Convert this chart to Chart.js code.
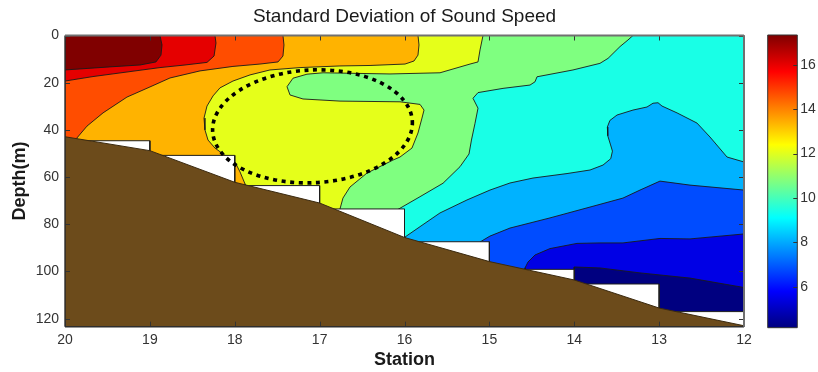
<!DOCTYPE html>
<html>
<head>
<meta charset="utf-8">
<title>Standard Deviation of Sound Speed</title>
<script src="https://cdn.jsdelivr.net/npm/chart.js@4/dist/chart.umd.min.js"></script>
<style>
  html, body { margin: 0; padding: 0; background: #fff; overflow: hidden; }
  #wrap { position: relative; width: 818px; height: 372px; }
  #section { position: absolute; left: 0; top: 0; }
  #scale { position: absolute; left: 760px; top: 0; }
</style>
</head>
<body>
<div id="wrap">
  <canvas id="section" width="818" height="372"></canvas>
  <canvas id="scale" width="58" height="372"></canvas>
</div>
<script>
// ---- section geometry: station number along x, depth (m) down y ----
const stations = [20, 19, 18, 17, 16, 15, 14, 13, 12];
const depthTicks = [0, 20, 40, 60, 80, 100, 120];
const maxDepth = 123.4;
// deepest sampled depth in each interval 20-19, 19-18, ..., 13-12
const sampledDepth = [44.6, 50.8, 63.6, 73.5, 87.4, 99.1, 105.3, 117.0];
// seabed depth at each station
const seabedDepth = [42.9, 48.8, 62.2, 71.0, 85.6, 95.8, 103.6, 115.5, 123.0];

// ---- standard deviation of sound speed (m/s) ----
const sdMin = 4.15;
const sdMax = 17.35;
const colorTicks = [6, 8, 10, 12, 14, 16];
const contourLevels = [4.15, 5.47, 6.79, 8.11, 9.43, 10.75, 12.07, 13.39, 14.71, 16.03, 17.35];

// Regions where SD >= contourLevels[k], as [station, depth] outlines
const contourL0 = [[20, 0], [12, 0], [12, 123.4], [20, 123.4]];
const contourL1 = [[20, 0], [12, 0], [12, 106.8], [12.636, 102.8], [13.225, 100.6], [13.697, 98.5],
  [14.0, 98.1], [14.0, 110], [20, 110]];
const contourL2 = [[20, 0], [12, 0], [12, 84.1], [12.636, 86.2], [12.99, 86.0], [13.426, 87.9],
  [13.697, 87.9], [13.968, 88.1], [14.286, 90.3], [14.462, 93.0], [14.545, 96.0], [14.58, 98.5],
  [14.58, 110], [20, 110]];
const contourL3 = [[20, 0], [12, 0], [12, 65.5], [12.636, 63.4], [12.99, 61.7], [13.225, 65.5],
  [13.426, 68.9], [13.814, 72.7], [14.286, 77.3], [14.757, 81.6], [14.993, 85.0], [15.11, 87.5],
  [15.11, 100], [20, 100]];
const contourL4 = [[20, 0], [12, 0], [12, 53.6], [12.2, 51.5], [12.401, 43.0], [12.554, 37.1],
  [12.789, 32.8], [12.966, 29.9], [13.013, 28.5], [13.072, 28.7], [13.143, 30.3], [13.308, 31.6],
  [13.496, 33.7], [13.58, 36.0], [13.61, 38.8], [13.605, 42.5], [13.575, 46.0], [13.55, 49.0],
  [13.57, 52.2], [13.661, 54.9], [13.814, 57.0], [14.085, 58.5], [14.486, 60.4], [14.757, 62.5],
  [14.993, 65.5], [15.264, 69.7], [15.582, 75.2], [15.817, 81.0], [15.994, 85.4], [15.994, 100], [20, 100]];
const contourL5 = [[20, 0], [13.308, 0], [13.367, 1.9], [13.461, 4.7], [13.602, 9.7], [13.697, 11.8],
  [14.015, 14.6], [14.439, 17.5], [14.462, 19.6], [14.521, 21.0], [14.839, 22.4], [15.134, 24.2],
  [15.193, 26.6], [15.134, 30.8], [15.169, 37.2], [15.211, 44.3], [15.24, 50.2], [15.346, 55.6],
  [15.546, 62.6], [15.817, 68.3], [16.077, 73.7], [16.077, 90], [20, 90]];
const contourL6 = [[20, 0], [15.075, 0], [15.11, 6.1], [15.134, 11.2], [15.228, 12.1], [15.582, 15.8],
  [16.171, 16.3], [16.96, 15.8], [17.149, 16.4], [17.314, 18.1], [17.384, 21.7], [17.349, 25.2],
  [17.196, 26.9], [16.76, 27.8], [16.053, 28.1], [15.817, 29.2], [15.77, 31.6], [15.794, 35.0],
  [15.841, 41.3], [15.912, 47.7], [16.053, 51.5], [16.136, 52.8], [16.442, 58.3], [16.642, 64.2],
  [16.725, 68.9], [16.76, 73.5], [16.76, 90], [20, 90]];
const contourL7 = [[20, 0], [15.841, 0], [15.829, 4.0], [15.841, 8.3], [15.888, 10.8], [15.994, 12.1],
  [16.406, 12.7], [16.76, 12.9], [17.231, 13.6], [17.585, 14.6], [17.82, 16.7], [18.021, 19.3],
  [18.174, 22.2], [18.256, 25.6], [18.327, 29.9], [18.362, 35.0], [18.351, 40.0], [18.315, 44.3],
  [18.233, 47.7], [18.103, 51.1], [17.997, 53.6], [17.938, 57.8], [17.879, 62.9], [17.879, 75], [20, 75]];
const contourL8 = [[20, 0], [17.432, 0], [17.42, 4.0], [17.432, 8.7], [17.49, 11.2], [17.703, 12.1],
  [18.021, 13.1], [18.409, 15.0], [18.763, 18.0], [18.999, 21.8], [19.27, 26.1], [19.552, 32.8],
  [19.741, 38.4], [19.859, 43.4], [19.88, 50], [20, 50]];
const contourL9 = [[20, 0], [18.233, 0], [18.221, 3.2], [18.244, 8.7], [18.327, 11.4], [18.586, 12.5],
  [18.881, 13.6], [19.67, 17.4], [20, 19.3]];
const contourL10 = [[20, 0], [18.881, 0], [18.857, 4.0], [18.869, 8.3], [18.928, 11.2], [19.116, 12.5],
  [19.47, 13.3], [20, 14.6]];
const contourShapes = [contourL0, contourL1, contourL2, contourL3, contourL4, contourL5,
  contourL6, contourL7, contourL8, contourL9, contourL10];

// highlighted water mass: centre [station, depth] and half-widths
const highlightCenter = [17.084, 38.5];
const highlightRadius = [1.178, 23.9];

// MATLAB-style jet colour map, t in [0, 1]
function jet(t) {
  const c = v => Math.round(255 * Math.max(0, Math.min(1, v)));
  return 'rgb(' + c(Math.min(4 * t - 1.5, -4 * t + 4.5)) + ',' +
    c(Math.min(4 * t - 0.5, -4 * t + 3.5)) + ',' + c(Math.min(4 * t + 0.5, -4 * t + 2.5)) + ')';
}
const bandColor = v => jet((v - sdMin) / (sdMax - sdMin));

const toPoints = shape => {
  const pts = shape.map(([s, d]) => ({ x: s, y: d }));
  pts.push({ x: shape[0][0], y: shape[0][1] });
  return pts;
};

// no-data area below the deepest sample of each interval
const maskShape = [];
sampledDepth.forEach((d, i) => {
  maskShape.push([stations[i], d], [stations[i + 1], d]);
});
maskShape.push([stations[stations.length - 1], maxDepth], [stations[0], maxDepth]);

// seabed
const seabedShape = stations.map((s, i) => [s, seabedDepth[i]]);
seabedShape.push([stations[stations.length - 1], maxDepth], [stations[0], maxDepth]);

Chart.defaults.font.family = '"Liberation Sans", Arial, Helvetica, sans-serif';
Chart.defaults.color = '#333';

const polygon = (shape, fillColor, lineColor, lineWidth, order) => ({
  data: toPoints(shape),
  backgroundColor: fillColor,
  borderColor: lineColor,
  borderWidth: lineWidth,
  fill: 'shape',
  pointRadius: 0,
  pointHoverRadius: 0,
  tension: 0,
  borderJoinStyle: 'round',
  order: order
});

const datasets = contourShapes.map((shape, k) =>
  polygon(shape, bandColor(contourLevels[k]), '#1a1a1a', k === 0 ? 0 : 0.9, 100 - k));
datasets.push(polygon(maskShape, '#ffffff', '#1e1e1e', 1, 50));
datasets.push(polygon(seabedShape, '#6c4b1b', '#3b2a10', 1, 40));

// inward tick marks, axes box and the dotted highlight
const axesBox = {
  id: 'axesBox',
  afterDatasetsDraw(chart, args, o) {
    const { ctx, chartArea: a, scales } = chart;
    ctx.save();
    if (o.highlight) {
      const xs = scales.x, ys = scales.y;
      const cx = xs.getPixelForValue(highlightCenter[0]);
      const cy = ys.getPixelForValue(highlightCenter[1]);
      const rx = Math.abs(xs.getPixelForValue(highlightCenter[0] - highlightRadius[0]) - cx);
      const ry = Math.abs(ys.getPixelForValue(highlightCenter[1] + highlightRadius[1]) - cy);
      ctx.beginPath();
      ctx.ellipse(cx, cy, rx, ry, -0.05, 0, Math.PI * 2);
      ctx.setLineDash([4, 4.6]);
      ctx.lineWidth = 3.6;
      ctx.strokeStyle = '#000';
      ctx.stroke();
      ctx.setLineDash([]);
    }
    const seg = (x1, y1, x2, y2) => { ctx.beginPath(); ctx.moveTo(x1, y1); ctx.lineTo(x2, y2); ctx.stroke(); };
    ctx.lineWidth = 1;
    ctx.strokeStyle = o.tickColor;
    const L = o.tickLength;
    if (o.xTicks) {
      for (const t of scales.x.ticks) {
        const p = Math.round(scales.x.getPixelForValue(t.value)) + 0.5;
        seg(p, a.top, p, a.top + L);
        seg(p, a.bottom, p, a.bottom - L);
      }
    }
    for (const t of scales.y.ticks) {
      const p = Math.round(scales.y.getPixelForValue(t.value)) + 0.5;
      if (o.leftTicks) seg(a.left, p, a.left + L, p);
      seg(a.right, p, a.right - L, p);
    }
    ctx.lineWidth = o.frameWidth;
    ctx.strokeStyle = o.frameDark;
    seg(a.left, a.top, a.left, a.bottom);
    seg(a.left, a.bottom, a.right, a.bottom);
    ctx.strokeStyle = o.frameLight;
    ctx.lineWidth = o.frameWidthLight;
    seg(a.left, a.top, a.right, a.top);
    seg(a.right, a.top, a.right, a.bottom);
    ctx.restore();
  }
};

new Chart(document.getElementById('section'), {
  type: 'line',
  data: { datasets: datasets },
  plugins: [axesBox],
  options: {
    responsive: false,
    animation: false,
    events: [],
    layout: { padding: { left: 0, right: 74, top: 0, bottom: 0 } },
    scales: {
      x: {
        type: 'linear',
        reverse: true,
        min: 12,
        max: 20,
        afterBuildTicks: s => { s.ticks = stations.map(v => ({ value: v })); },
        afterFit: s => { s.height = 45.3; },
        grid: { display: false, drawTicks: false },
        border: { display: false },
        ticks: { padding: 5, font: { size: 14 }, color: '#333', maxRotation: 0 },
        title: { display: true, text: 'Station', font: { size: 18, weight: 'bold' }, color: '#1a1a1a',
          padding: { top: 0, bottom: 1.5 } }
      },
      y: {
        type: 'linear',
        reverse: true,
        min: 0,
        max: maxDepth,
        afterBuildTicks: s => { s.ticks = depthTicks.map(v => ({ value: v })); },
        afterFit: s => { s.width = 65; },
        grid: { display: false, drawTicks: false },
        border: { display: false },
        ticks: { padding: 6, font: { size: 14 }, color: '#333' },
        title: { display: true, text: 'Depth(m)', font: { size: 18, weight: 'bold' }, color: '#1a1a1a',
          padding: { top: 9, bottom: 0 } }
      }
    },
    plugins: {
      legend: { display: false },
      tooltip: { enabled: false },
      title: {
        display: true,
        fullSize: false,
        text: 'Standard Deviation of Sound Speed',
        font: { size: 19, weight: 'normal' },
        color: '#1a1a1a',
        padding: { top: 5, bottom: 7.7 }
      },
      axesBox: {
        highlight: true, xTicks: true, leftTicks: true, tickLength: 5, tickColor: '#333',
        frameDark: '#2e2e2e', frameLight: '#707070', frameWidth: 1.4, frameWidthLight: 2
      }
    }
  }
});

// colour bar
function jetGradient(chart) {
  const a = chart.chartArea;
  if (!a) return '#888';
  const g = chart.ctx.createLinearGradient(0, a.bottom, 0, a.top);
  for (let i = 0; i <= 64; i++) g.addColorStop(i / 64, jet(i / 64));
  return g;
}

new Chart(document.getElementById('scale'), {
  type: 'bar',
  data: {
    labels: ['SD'],
    datasets: [{
      data: [[sdMin, sdMax]],
      backgroundColor: c => jetGradient(c.chart),
      borderWidth: 0,
      barPercentage: 1,
      categoryPercentage: 1
    }]
  },
  plugins: [axesBox],
  options: {
    responsive: false,
    animation: false,
    events: [],
    layout: { padding: { left: 7.7, right: 0, top: 35, bottom: 44.3 } },
    scales: {
      x: { display: false },
      y: {
        position: 'right',
        min: sdMin,
        max: sdMax,
        afterBuildTicks: s => { s.ticks = colorTicks.map(v => ({ value: v })); },
        afterFit: s => { s.width = 20.7; },
        grid: { display: false, drawTicks: false },
        border: { display: false },
        ticks: { padding: 3, font: { size: 14 }, color: '#333' }
      }
    },
    plugins: {
      legend: { display: false },
      tooltip: { enabled: false },
      axesBox: {
        highlight: false, xTicks: false, leftTicks: false, tickLength: 4, tickColor: '#333',
        frameDark: '#333', frameLight: '#333', frameWidth: 1, frameWidthLight: 1
      }
    }
  }
});
</script>
</body>
</html>
